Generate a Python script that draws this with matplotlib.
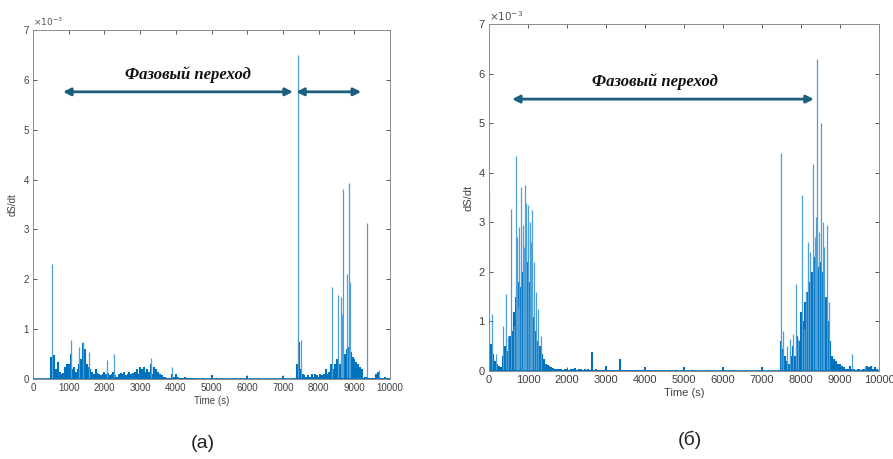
import matplotlib
matplotlib.use("Agg")
import matplotlib.pyplot as plt
import numpy as np

plt.rcParams['font.family'] = ['Liberation Sans', 'DejaVu Sans']

# time grid (s), one value every 50 s
t_grid = np.arange(0, 10000, 50)

# panel (a): dS/dt envelope, units of 1e-3
dense_a = [
    0, 0, 0, 0, 0, 0, 0, 0, 0, 0,
    0.45, 0.3, 0.48, 0.2, 0.35, 0.15, 0.1, 0.12, 0.25, 0.3,
    0.3, 0.5, 0.2, 0.25, 0.15, 0.2, 0.3, 0.4, 0.72, 0.6,
    0.3, 0.25, 0.2, 0.15, 0.1, 0.2, 0.12, 0.1, 0.08, 0.1,
    0.15, 0.1, 0.12, 0.08, 0.1, 0.15, 0.08, 0.05, 0.1, 0.12,
    0.1, 0.15, 0.08, 0.1, 0.15, 0.1, 0.12, 0.15, 0.2, 0.1,
    0.25, 0.2, 0.25, 0.15, 0.2, 0.15, 0.3, 0.1, 0.25, 0.2,
    0.15, 0.1, 0.08, 0.05, 0.05, 0.03, 0.02, 0.02, 0.1, 0.05,
    0.1, 0.05, 0.02, 0.01, 0.02, 0.05, 0.02, 0.03, 0.01, 0.02,
    0.01, 0.0, 0.01, 0.0, 0.0, 0.01, 0.0, 0.0, 0.0, 0.0,
    0.08, 0.0, 0.0, 0.01, 0.0, 0.0, 0.0, 0.0, 0.0, 0.0,
    0.0, 0.0, 0.0, 0.0, 0.0, 0.0, 0.0, 0.0, 0.0, 0.0,
    0.07, 0.0, 0.0, 0.0, 0.0, 0.0, 0.0, 0.0, 0.0, 0.0,
    0.0, 0.0, 0.0, 0.0, 0.0, 0.0, 0.0, 0.0, 0.0, 0.0,
    0.07, 0.0, 0.0, 0.0, 0.0, 0.0, 0.0, 0.0, 0.3, 0.75,
    0.2, 0.1, 0.08, 0.05, 0.08, 0.05, 0.1, 0.05, 0.1, 0.08,
    0.05, 0.1, 0.08, 0.1, 0.2, 0.1, 0.15, 0.3, 0.2, 0.3,
    0.4, 0.35, 0.3, 0.45, 0.4, 0.5, 0.6, 0.65, 0.55, 0.45,
    0.4, 0.35, 0.3, 0.25, 0.2, 0.02, 0.05, 0.05, 0.03, 0.02,
    0.02, 0.03, 0.1, 0.15, 0.05, 0.02, 0.03, 0.05, 0.02, 0.03,
]
peak_t_a = [520, 1050, 1280, 1400, 1560, 2060, 2270, 3300, 3900,
            7420, 7500, 8370, 8550, 8620, 8650, 8680, 8780, 8860, 8870,
            9350, 9680]
peak_v_a = [2.3, 0.78, 0.65, 0.75, 0.55, 0.38, 0.5, 0.43, 0.25,
            6.5, 0.78, 1.85, 1.68, 1.65, 1.3, 3.82, 2.1, 3.93, 1.95,
            3.12, 0.18]

# panel (б)
dense_b = [
    0.5, 0.55, 0.35, 0.2, 0.15, 0.1, 0.08, 0.3, 0.5, 0.4,
    0.6, 0.7, 0.8, 1.2, 1.5, 1.8, 1.7, 2.0, 2.2, 2.3,
    2.2, 1.8, 1.5, 1.1, 0.8, 0.6, 0.5, 0.35, 0.25, 0.15,
    0.12, 0.1, 0.08, 0.06, 0.05, 0.05, 0.04, 0.04, 0.03, 0.05,
    0.04, 0.03, 0.05, 0.04, 0.06, 0.03, 0.04, 0.05, 0.03, 0.04,
    0.03, 0.04, 0.03, 0.38, 0.03, 0.04, 0.03, 0.03, 0.02, 0.03,
    0.1, 0.03, 0.02, 0.03, 0.02, 0.02, 0.03, 0.25, 0.02, 0.02,
    0.02, 0.02, 0.03, 0.02, 0.02, 0.03, 0.02, 0.02, 0.02, 0.02,
    0.08, 0.02, 0.02, 0.02, 0.01, 0.02, 0.02, 0.01, 0.02, 0.01,
    0.02, 0.01, 0.01, 0.02, 0.01, 0.01, 0.02, 0.01, 0.01, 0.01,
    0.08, 0.01, 0.01, 0.01, 0.02, 0.01, 0.01, 0.01, 0.01, 0.01,
    0.01, 0.01, 0.02, 0.01, 0.01, 0.01, 0.01, 0.01, 0.01, 0.01,
    0.08, 0.01, 0.01, 0.01, 0.01, 0.02, 0.01, 0.01, 0.01, 0.01,
    0.01, 0.01, 0.01, 0.01, 0.01, 0.01, 0.01, 0.01, 0.01, 0.01,
    0.08, 0.01, 0.01, 0.01, 0.01, 0.01, 0.01, 0.01, 0.01, 0.02,
    0.6, 0.45, 0.3, 0.2, 0.15, 0.3, 0.5, 0.3, 0.7, 0.6,
    1.2, 1.0, 1.4, 1.6, 1.8, 2.0, 2.0, 2.3, 2.2, 2.1,
    2.2, 2.0, 1.8, 1.5, 1.0, 0.6, 0.3, 0.25, 0.2, 0.15,
    0.15, 0.1, 0.08, 0.05, 0.05, 0.1, 0.05, 0.04, 0.03, 0.05,
    0.04, 0.03, 0.04, 0.05, 0.1, 0.08, 0.1, 0.05, 0.08, 0.05,
]
peak_t_b = [10, 80, 190, 370, 430, 480, 560, 640, 690, 720, 750, 780, 810,
            830, 870, 900, 920, 960, 990, 1010, 1050, 1080, 1100, 1150,
            1200, 1260, 1330,
            7490, 7550, 7650, 7720, 7800, 7870, 7930, 8020, 8080, 8130,
            8190, 8240, 8300, 8350, 8390, 8420, 8470, 8520, 8560, 8600,
            8670, 8720, 9300, 9650]
peak_v_b = [3.65, 1.15, 0.35, 0.9, 1.55, 0.7, 3.27, 0.9, 4.35, 2.7, 1.3, 2.9,
            3.72, 1.1, 2.95, 2.5, 3.75, 3.4, 2.9, 3.35, 3.0, 2.6, 3.25, 2.2,
            1.6, 1.25, 0.7,
            4.4, 0.8, 0.5, 0.65, 0.75, 1.75, 0.65, 3.55, 0.85, 1.6,
            2.6, 2.4, 4.18, 2.7, 3.1, 6.3, 2.8, 5.0, 3.0, 2.5,
            2.95, 1.4, 0.35, 0.1]

# arrows: (start, end, height) and label position
arrows_a = [(840, 7280, 5.76), (7370, 9190, 5.76)]
label_a = (4340, 6.1)
arrows_b = [(590, 8330, 5.49)]
label_b = (4260, 5.84)

line_col = '#0072BD'
peak_col = '#4F9FD8'
arrow_col = '#1B5E7E'
label_text = 'Фазовый переход'

fig = plt.figure(figsize=(8.93, 4.59), dpi=100)
ax_a = fig.add_axes([0.037, 0.1743, 0.3998, 0.7603])
ax_b = fig.add_axes([0.5476, 0.1917, 0.4367, 0.7553])


def draw_panel(ax, dense, peak_t, peak_v, arrows, label, fsize):
    ax.vlines(t_grid, 0, dense, color=line_col, lw=1.5)
    ax.vlines(peak_t, 0, peak_v, color=peak_col, lw=0.9)
    ax.axhline(0, color=line_col, lw=1.2)
    ax.set_xlim(0, 10000)
    ax.set_ylim(0, 7)
    ax.set_xticks(np.arange(0, 10001, 1000))
    ax.set_yticks(np.arange(0, 8, 1))
    ax.tick_params(direction='in', top=True, right=True, labelsize=fsize,
                   colors='#404040', length=3, width=0.6, pad=3)
    for sp in ax.spines.values():
        sp.set_color('#8c8c8c')
        sp.set_linewidth(0.7)
    ax.set_xlabel('Time (s)', fontsize=fsize, color='#404040', labelpad=2)
    ax.set_ylabel('dS/dt', fontsize=fsize, color='#404040', labelpad=4)
    ax.text(0.0, 1.005, r'$\times10^{-3}$', transform=ax.transAxes,
            fontsize=fsize - 0.5, color='#505050', va='bottom', ha='left')
    for x0, x1, y in arrows:
        ax.annotate('', xy=(x1, y), xytext=(x0, y),
                    arrowprops=dict(arrowstyle='<|-|>', color=arrow_col,
                                    lw=2, mutation_scale=11,
                                    shrinkA=0, shrinkB=0))
    ax.text(label[0], label[1], label_text, ha='center', va='center',
            fontsize=12, fontweight='bold', fontstyle='italic',
            family='Liberation Serif', color='#111111')


draw_panel(ax_a, dense_a, peak_t_a, peak_v_a, arrows_a, label_a, 7)
draw_panel(ax_b, dense_b, peak_t_b, peak_v_b, arrows_b, label_b, 8)

fig.text(203 / 893, 1 - 443 / 459, '(a)', ha='center', va='center',
         fontsize=14, color='#222222')
fig.text(690 / 893, 1 - 440 / 459, '(б)', ha='center', va='center',
         fontsize=14, color='#222222')

fig.savefig('out.png', dpi=100)
